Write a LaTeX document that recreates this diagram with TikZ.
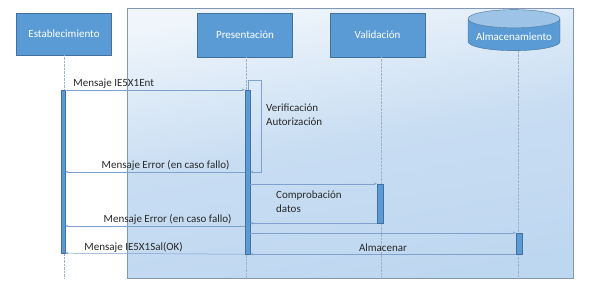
\documentclass[tikz,border=0pt]{standalone}
\usepackage{fontspec}
\setmainfont{Carlito}
\usepackage{tikz}
\usetikzlibrary{arrows.meta,shapes.geometric,positioning,calc}
\definecolor{boxBlue}{RGB}{91,155,213}
\definecolor{boxEdge}{RGB}{65,113,156}
\definecolor{endBlue}{RGB}{157,195,230}
\definecolor{frameBlue}{RGB}{190,215,240}
\definecolor{frameEdge}{RGB}{130,150,178}
\definecolor{msgBlue}{RGB}{126,161,206}
\definecolor{lifeGray}{RGB}{160,175,195}
\definecolor{textDark}{RGB}{40,40,40}
\tikzset{
  actorbox/.style={
    rectangle, draw=boxEdge, fill=boxBlue, text=white,
    minimum width=95pt, minimum height=44pt, font=\fontsize{11}{13}\selectfont
  },
  storebox/.style={
    cylinder, shape border rotate=90, aspect=0.22, draw=boxEdge,
    cylinder uses custom fill, cylinder body fill=boxBlue, cylinder end fill=endBlue,
    text=white, minimum width=92pt, minimum height=41pt, font=\fontsize{11}{13}\selectfont
  },
  actbar/.style={rectangle, draw=boxEdge, fill=boxBlue, inner sep=0pt},
  lifeline/.style={draw=lifeGray, densely dotted, line width=0.4pt},
  msgline/.style={draw=msgBlue, line width=0.5pt, -{Stealth[length=3pt,width=2.5pt]}},
  msgtext/.style={font=\fontsize{11}{14}\selectfont, text=textDark, inner sep=1pt}
}
\begin{document}
\begin{tikzpicture}[x=1pt, y=-1pt]
        \useasboundingbox (0,0) rectangle (611,289);
        \fill[white] (0,0) rectangle (611,289);
        \shade[top color=frameBlue!25, bottom color=frameBlue, middle color=frameBlue!85,
          shading angle=10, draw=frameEdge]
          (127,8) rectangle (573,278);
        \node[actorbox, minimum height=42pt] (est) at (64,34) {Establecimiento};
        \node[actorbox] (pres) at (245,35) {Presentación};
        \node[actorbox] (val) at (377.5,35) {Validación};
        \node[storebox] (alm) at (514,36.5) {Almacenamiento};
        \coordinate (estEnd) at (64,279);
        \coordinate (presEnd) at (246,279);
        \coordinate (valEnd) at (381,279);
        \coordinate (almEnd) at (518,279);
        \draw[lifeline] (est.south -| estEnd) -- (estEnd);
        \draw[lifeline] (pres.south -| presEnd) -- (presEnd);
        \draw[lifeline] (val.south -| valEnd) -- (valEnd);
        \draw[lifeline] (alm.south -| almEnd) -- (almEnd);
        \node[actbar, minimum width=4pt, minimum height=163pt] (actEst) at (63,171.5) {};
        \node[actbar, minimum width=5pt, minimum height=164pt] (actPres) at (247.5,172) {};
        \node[actbar, minimum width=6pt, minimum height=39pt] (actVal) at (380,203.5) {};
        \node[actbar, minimum width=6pt, minimum height=21pt] (actAlm) at (519,243.5) {};
        \draw[msgline] (actEst.north east) --
          node[msgtext, pos=0, anchor=south west, xshift=7pt]{Mensaje IE5X1Ent}
          (actPres.north west);
        \draw[msgline] ([xshift=1pt]actPres.north) |- ++(13,-10) |- ([yshift=-82pt]actPres.north east);
        \node[msgtext, align=left, anchor=west] (verif) at (265,115)
          {Verificación\\Autorización};
        \draw[msgline] ([yshift=-82pt]actPres.north west) --
          node[msgtext, pos=0, anchor=south east, xshift=-14pt]{Mensaje Error (en caso fallo)}
          ([yshift=-82pt]actEst.north east);
        \draw[msgline] (actPres.east |- actVal.north) -- (actVal.north west);
        \draw[msgline] (actVal.south west) -- (actPres.east |- actVal.south);
        \node[msgtext, align=left, anchor=west] (comp) at (275,202)
          {Comprobación\\datos};
        \draw[msgline] ([yshift=-136pt]actPres.north west) --
          node[msgtext, pos=0, anchor=south east, xshift=-12pt]{Mensaje Error (en caso fallo)}
          ([yshift=-136pt]actEst.north east);
        \draw[msgline] (actPres.east |- actAlm.north) -- (actAlm.north west);
        \draw[msgline] (actAlm.south west) --
          node[msgtext, midway, above, yshift=1pt]{Almacenar}
          (actPres.south east);
        \draw[msgline] (actPres.south west) --
          node[msgtext, pos=1, anchor=south west, xshift=18pt]{Mensaje IE5X1Sal(OK)}
          (actEst.south east);
\end{tikzpicture}
\end{document}
